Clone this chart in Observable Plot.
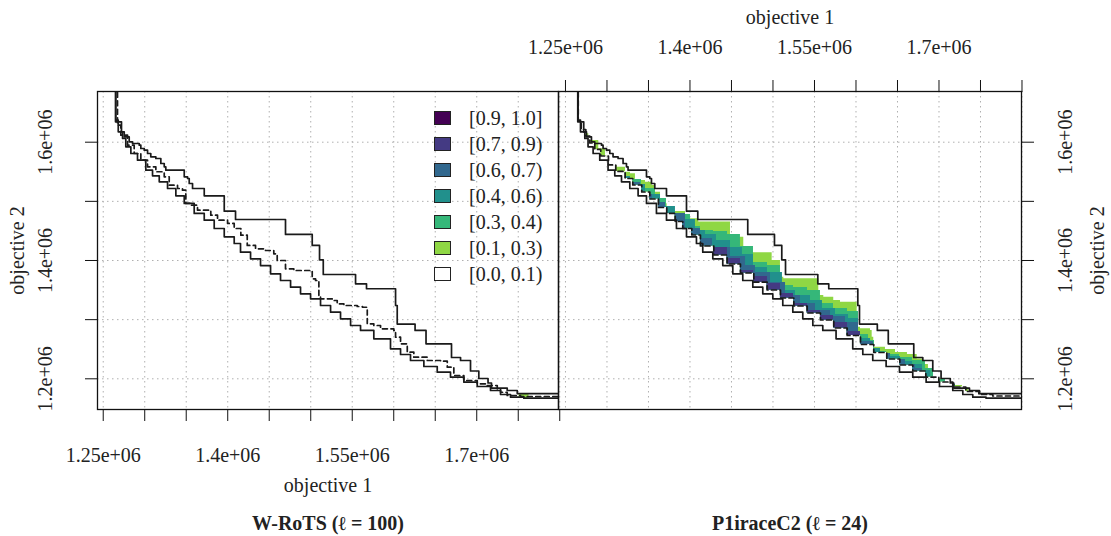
<!DOCTYPE html>
<html><head><meta charset="utf-8">
<script src="https://cdn.jsdelivr.net/npm/d3@7"></script>
<script src="https://cdn.jsdelivr.net/npm/@observablehq/plot@0.6"></script>
<style>
body{margin:0;background:#fff;}
#wrap{position:relative;width:1111px;height:536px;overflow:hidden;font-family:"Liberation Serif","DejaVu Serif",serif;color:#222;background:#fff;}
#wrap svg{position:absolute;top:0;overflow:visible;font-family:"Liberation Serif","DejaVu Serif",serif;}
.sw{position:absolute;width:15px;height:12px;border:1px solid #222;}
.lt{position:absolute;font-size:20px;line-height:20px;white-space:nowrap;}
</style></head><body><div id="wrap"></div>
<script>
// ---- data (objective 1, objective 2) ----
const worst = [[1264.8e3,1634.5e3],[1272.0e3,1617.6e3],[1275.3e3,1609.1e3],[1281.3e3,1600.7e3],[1285.3e3,1597.8e3],[1293.4e3,1594.9e3],[1295.3e3,1589.3e3],[1299.4e3,1586.5e3],[1303.4e3,1580.9e3],[1307.3e3,1575.3e3],[1313.4e3,1572.4e3],[1319.4e3,1564.0e3],[1323.5e3,1558.4e3],[1325.4e3,1552.7e3],[1347.6e3,1541.5e3],[1351.6e3,1538.6e3],[1353.6e3,1530.2e3],[1357.6e3,1521.7e3],[1371.7e3,1509.4e3],[1395.8e3,1483.3e3],[1409.4e3,1469.3e3],[1469.6e3,1444.0e3],[1501.8e3,1425.4e3],[1510.6e3,1401.2e3],[1515.1e3,1376.3e3],[1554.0e3,1360.6e3],[1567.2e3,1352.2e3],[1602.2e3,1323.9e3],[1604.2e3,1292.6e3],[1625.7e3,1281.7e3],[1638.9e3,1259.2e3],[1669.6e3,1236.0e3],[1680.5e3,1230.9e3],[1692.5e3,1213.2e3],[1702.5e3,1200.5e3],[1713.6e3,1192.9e3],[1717.8e3,1184.4e3],[1736.7e3,1180.2e3],[1748.8e3,1175.1e3]];
const best = [[1265.2e3,1637.2e3],[1268.1e3,1617.6e3],[1273.3e3,1606.3e3],[1277.2e3,1592.2e3],[1283.3e3,1580.9e3],[1291.3e3,1569.6e3],[1301.3e3,1552.7e3],[1309.4e3,1543.2e3],[1317.5e3,1533.0e3],[1327.5e3,1521.7e3],[1337.5e3,1509.4e3],[1347.6e3,1496.4e3],[1359.6e3,1479.5e3],[1371.7e3,1468.1e3],[1383.7e3,1454.1e3],[1395.8e3,1440.1e3],[1407.8e3,1428.7e3],[1415.4e3,1414.0e3],[1427.5e3,1402.9e3],[1439.5e3,1391.5e3],[1451.6e3,1377.5e3],[1463.6e3,1366.2e3],[1475.7e3,1354.9e3],[1487.7e3,1343.7e3],[1499.8e3,1335.2e3],[1511.8e3,1323.9e3],[1523.9e3,1312.6e3],[1535.9e3,1301.4e3],[1548.0e3,1290.1e3],[1560.0e3,1281.7e3],[1576.0e3,1267.6e3],[1596.1e3,1250.7e3],[1608.2e3,1241.1e3],[1620.2e3,1230.9e3],[1636.3e3,1220.8e3],[1652.4e3,1211.2e3],[1668.4e3,1202.7e3],[1684.5e3,1194.3e3],[1700.6e3,1187.0e3],[1716.6e3,1180.2e3],[1728.7e3,1173.5e3],[1740.7e3,1168.9e3],[1756.7e3,1167.2e3]];
const medianWRoTS = [[1267.2e3,1628.7e3],[1271.2e3,1611.8e3],[1279.3e3,1594.9e3],[1287.3e3,1580.9e3],[1295.3e3,1569.6e3],[1303.4e3,1558.4e3],[1313.4e3,1550.0e3],[1323.5e3,1541.5e3],[1329.5e3,1527.3e3],[1339.5e3,1521.7e3],[1345.5e3,1518.8e3],[1349.5e3,1496.4e3],[1355.5e3,1493.5e3],[1363.6e3,1485.0e3],[1379.6e3,1476.6e3],[1387.7e3,1468.1e3],[1399.8e3,1462.6e3],[1407.8e3,1454.1e3],[1415.8e3,1442.8e3],[1423.5e3,1425.4e3],[1433.5e3,1419.8e3],[1445.5e3,1416.9e3],[1455.5e3,1411.3e3],[1459.6e3,1400.0e3],[1469.6e3,1386.0e3],[1479.6e3,1383.1e3],[1501.8e3,1369.1e3],[1505.8e3,1366.2e3],[1509.8e3,1340.8e3],[1511.8e3,1335.2e3],[1525.9e3,1332.4e3],[1531.9e3,1326.8e3],[1539.9e3,1323.9e3],[1556.0e3,1322.2e3],[1562.4e3,1321.0e3],[1568.1e3,1293.0e3],[1576.0e3,1290.1e3],[1584.1e3,1284.5e3],[1600.1e3,1281.7e3],[1602.2e3,1270.3e3],[1608.2e3,1259.2e3],[1616.3e3,1245.0e3],[1624.2e3,1236.5e3],[1640.4e3,1230.9e3],[1656.4e3,1229.8e3],[1664.5e3,1219.6e3],[1672.4e3,1205.6e3],[1684.5e3,1197.1e3],[1700.6e3,1191.5e3],[1712.6e3,1188.7e3],[1724.7e3,1183.1e3],[1728.7e3,1177.3e3],[1736.7e3,1171.8e3],[1752.8e3,1170.1e3]];
const medianP1 = [[1265.4e3,1635.8e3],[1269.0e3,1621.5e3],[1274.5e3,1610.5e3],[1279.3e3,1598.6e3],[1285.3e3,1587.7e3],[1292.5e3,1576.7e3],[1301.8e3,1561.5e3],[1310.6e3,1550.5e3],[1321.9e3,1538.6e3],[1331.1e3,1527.6e3],[1341.9e3,1515.8e3],[1351.6e3,1504.0e3],[1362.0e3,1489.6e3],[1372.0e3,1479.5e3],[1382.2e3,1465.9e3],[1391.3e3,1454.1e3],[1402.2e3,1443.1e3],[1412.6e3,1424.5e3],[1428.7e3,1409.3e3],[1444.8e3,1394.1e3],[1460.8e3,1378.9e3],[1476.9e3,1363.3e3],[1493.0e3,1350.1e3],[1509.0e3,1336.6e3],[1525.1e3,1323.1e3],[1541.2e3,1311.2e3],[1557.2e3,1299.4e3],[1573.2e3,1285.9e3],[1589.4e3,1273.2e3],[1605.4e3,1258.0e3],[1621.4e3,1244.5e3],[1637.1e3,1233.5e3],[1652.8e3,1223.3e3],[1668.4e3,1213.2e3],[1684.1e3,1203.0e3],[1699.8e3,1194.6e3],[1716.6e3,1186.1e3],[1732.3e3,1178.5e3],[1748.0e3,1173.5e3],[1764.8e3,1170.9e3]];
// outer boundaries of the difference regions (right panel); last point = where the region ends
const level01 = [[1272.0e3,1614.2e3],[1278.1e3,1602.9e3],[1290.1e3,1588.8e3],[1298.2e3,1577.5e3],[1300.2e3,1560.6e3],[1312.3e3,1557.7e3],[1322.3e3,1549.3e3],[1328.3e3,1546.6e3],[1334.3e3,1535.2e3],[1346.4e3,1532.4e3],[1354.5e3,1526.8e3],[1358.4e3,1515.5e3],[1364.5e3,1501.4e3],[1370.5e3,1495.9e3],[1372.5e3,1482.8e3],[1394.6e3,1470.5e3],[1410.6e3,1465.1e3],[1448.8e3,1439.4e3],[1464.8e3,1422.5e3],[1468.9e3,1413.0e3],[1499.0e3,1400.0e3],[1509.0e3,1371.8e3],[1513.0e3,1369.1e3],[1555.2e3,1340.8e3],[1561.2e3,1338.0e3],[1573.2e3,1332.4e3],[1581.3e3,1329.5e3],[1601.4e3,1287.2e3],[1605.4e3,1284.5e3],[1617.5e3,1281.7e3],[1619.5e3,1270.3e3],[1621.4e3,1253.4e3],[1635.5e3,1249.5e3],[1647.6e3,1244.5e3],[1662.0e3,1241.1e3],[1673.7e3,1233.5e3],[1680.1e3,1224.2e3],[1687.3e3,1216.6e3],[1691.0e3,1200.0e3],[1704.2e3,1194.3e3],[1715.1e3,1188.7e3],[1728.3e3,1184.4e3],[1735.9e3,1177.3e3],[1745.0e3,1177.3e3]];
const level03 = [[1306.6e3,1548.8e3],[1322.3e3,1536.9e3],[1341.6e3,1521.7e3],[1358.4e3,1504.8e3],[1371.7e3,1477.8e3],[1400.6e3,1457.5e3],[1412.6e3,1450.7e3],[1428.3e3,1449.0e3],[1445.2e3,1444.0e3],[1460.8e3,1423.7e3],[1476.5e3,1396.6e3],[1493.4e3,1391.5e3],[1509.0e3,1357.7e3],[1524.7e3,1354.4e3],[1541.6e3,1349.3e3],[1557.2e3,1327.3e3],[1572.9e3,1318.8e3],[1589.8e3,1313.8e3],[1603.0e3,1274.9e3],[1615.1e3,1264.7e3],[1622.3e3,1246.2e3],[1636.7e3,1241.1e3],[1652.4e3,1236.0e3],[1668.1e3,1230.9e3],[1683.7e3,1217.4e3],[1693.4e3,1198.8e3],[1707.8e3,1190.4e3],[1719.9e3,1185.3e3],[1728.3e3,1185.3e3]];
const level04 = [[1313.9e3,1542.0e3],[1328.3e3,1528.5e3],[1346.4e3,1511.6e3],[1364.5e3,1491.3e3],[1382.5e3,1469.3e3],[1406.6e3,1450.7e3],[1418.7e3,1444.0e3],[1431.9e3,1433.8e3],[1448.8e3,1422.0e3],[1463.2e3,1410.1e3],[1476.5e3,1388.2e3],[1493.4e3,1379.7e3],[1511.4e3,1349.3e3],[1527.1e3,1340.8e3],[1545.2e3,1332.4e3],[1559.6e3,1318.8e3],[1575.3e3,1308.7e3],[1591.0e3,1301.9e3],[1603.0e3,1268.1e3],[1617.5e3,1251.2e3],[1629.5e3,1237.7e3],[1653.6e3,1229.2e3],[1668.1e3,1224.2e3],[1680.1e3,1214.0e3],[1690.0e3,1214.0e3]];
const level06 = [[1322.3e3,1531.9e3],[1340.4e3,1511.6e3],[1354.8e3,1498.1e3],[1370.5e3,1479.5e3],[1394.6e3,1454.1e3],[1412.6e3,1437.2e3],[1427.1e3,1422.0e3],[1448.8e3,1406.8e3],[1466.9e3,1391.5e3],[1478.9e3,1379.7e3],[1497.0e3,1362.8e3],[1515.1e3,1340.8e3],[1533.1e3,1327.3e3],[1551.2e3,1315.5e3],[1569.3e3,1305.3e3],[1587.3e3,1295.2e3],[1603.0e3,1263.1e3],[1621.1e3,1242.8e3],[1641.6e3,1232.6e3],[1659.6e3,1224.2e3],[1671.7e3,1217.4e3],[1680.0e3,1217.4e3]];
const level07 = [[1428.3e3,1422.0e3],[1445.2e3,1403.4e3],[1460.8e3,1383.1e3],[1476.5e3,1372.9e3],[1493.4e3,1361.1e3],[1509.0e3,1344.2e3],[1524.7e3,1327.3e3],[1541.6e3,1315.5e3],[1557.2e3,1307.0e3],[1572.9e3,1295.2e3],[1589.8e3,1280.0e3],[1605.4e3,1280.0e3]];
const leftLevel01 = [[1751.0e3,1173.5e3],[1763.0e3,1173.5e3]];
const legendLabels = ["[0.9, 1.0]","[0.7, 0.9)","[0.6, 0.7)","[0.4, 0.6)","[0.3, 0.4)","[0.1, 0.3)","[0.0, 0.1)"];
const legendColors = ["#440154","#443A83","#31688E","#21908C","#35B779","#8FD744","#FFFFFF"];
const xTicks = [1.25e6,1.3e6,1.35e6,1.4e6,1.45e6,1.5e6,1.55e6,1.6e6,1.65e6,1.7e6,1.75e6,1.8e6];
const xLabels = [1.25e6,1.4e6,1.55e6,1.7e6];
const yTicks = [1.2e6,1.3e6,1.4e6,1.5e6,1.6e6];
const yLabels = [1.2e6,1.4e6,1.6e6];
const titles = ["W-RoTS (\u2113 = 100)", "P1iraceC2 (\u2113 = 24)"];

// ---- helpers ----
const fmt = v => (Math.round(v/1e4)/100) + "e+06";
const FONT = "'Liberation Serif', 'DejaVu Serif', serif";
function stepLine(pts){ return [[pts[0][0], 1.9e6], ...pts, [1.9e6, pts[pts.length-1][1]]]; }
function stepVal(pts, x){ let y = Infinity; for (const p of pts){ if (p[0] <= x) y = p[1]; else break; } return y; }
function band(upper, lower){
  const x0 = upper[0][0], x1 = upper[upper.length-1][0];
  const xs = Array.from(new Set([...upper.map(d=>d[0]), ...lower.map(d=>d[0]).filter(x=>x>x0&&x<x1)])).sort((a,b)=>a-b);
  return xs.map(x => { const lo = stepVal(lower,x); const up = stepVal(upper,x); return {x, lo, hi: Math.max(lo, up)}; });
}
const lineOpts = {x: d=>d[0], y: d=>d[1], curve: "step-after", stroke: "#1a1a1a", strokeWidth: 1.7, clip: true};
const gridStyle = {stroke: "#b0b0b0", strokeOpacity: 1, strokeWidth: 1, strokeDasharray: "1.5,3.5"};
const textStyle = {fontSize: 20, fill: "#222", textAnchor: "middle", lineAnchor: "middle", fontFamily: FONT};
const yDomain = [1148.1e3, 1685.7e3];
const areaOpts = c => ({x: "x", y1: "lo", y2: "hi", curve: "step-after", fill: c, clip: true});

const left = Plot.plot({
  width: 559, height: 536, marginLeft: 97, marginRight: 1, marginTop: 91, marginBottom: 127,
  style: {fontFamily: FONT, fontSize: "20px", background: "transparent", overflow: "visible"},
  x: {domain: [1243.1e3, 1798.5e3]}, y: {domain: yDomain},
  marks: [
    Plot.gridX(xTicks, gridStyle),
    Plot.gridY(yTicks, gridStyle),
    Plot.areaY(band(leftLevel01, best), areaOpts("#8FD744")),
    Plot.line(stepLine(worst), lineOpts),
    Plot.line(stepLine(best), lineOpts),
    Plot.line(stepLine(medianWRoTS), {...lineOpts, strokeDasharray: "5,3.5"}),
    Plot.frame({stroke: "#111", strokeWidth: 1.3}),
    Plot.axisX(xTicks, {anchor: "bottom", tickSize: 12, tickFormat: () => "", label: null, stroke: "#111"}),
    Plot.axisY(yTicks, {anchor: "left", tickSize: 12, tickFormat: () => "", label: null, stroke: "#111"}),
    Plot.text(xLabels, {x: d=>d, text: fmt, frameAnchor: "bottom", dy: 46, ...textStyle}),
    Plot.text(yLabels, {y: d=>d, text: fmt, frameAnchor: "left", dx: -52, rotate: -90, ...textStyle}),
    Plot.text(["objective 1"], {text: d=>d, frameAnchor: "bottom", dy: 76, ...textStyle}),
    Plot.text(["objective 2"], {text: d=>d, frameAnchor: "left", dx: -80, rotate: -90, ...textStyle}),
    Plot.text([titles[0]], {text: d=>d, frameAnchor: "bottom", dy: 114, fontWeight: "bold", ...textStyle})
  ]
});

const bands = [[level01,"#8FD744"],[level03,"#35B779"],[level04,"#21908C"],[level06,"#31688E"],[level07,"#443A83"]];
const right = Plot.plot({
  width: 553, height: 536, marginLeft: 0, marginRight: 90, marginTop: 91, marginBottom: 127,
  style: {fontFamily: FONT, fontSize: "20px", background: "transparent", overflow: "visible"},
  x: {domain: [1241.6e3, 1799.4e3]}, y: {domain: yDomain},
  marks: [
    Plot.gridX(xTicks, gridStyle),
    Plot.gridY(yTicks, gridStyle),
    ...bands.map(([lev, c]) => Plot.areaY(band(lev, medianP1), areaOpts(c))),
    Plot.line(stepLine(worst), lineOpts),
    Plot.line(stepLine(best), lineOpts),
    Plot.line(stepLine(medianP1), {...lineOpts, strokeDasharray: "5,3.5"}),
    Plot.frame({stroke: "#111", strokeWidth: 1.3}),
    Plot.axisX(xTicks, {anchor: "top", tickSize: 12, tickFormat: () => "", label: null, stroke: "#111"}),
    Plot.axisY(yTicks, {anchor: "right", tickSize: 12, tickFormat: () => "", label: null, stroke: "#111"}),
    Plot.text(xLabels, {x: d=>d, text: fmt, frameAnchor: "top", dy: -44, ...textStyle}),
    Plot.text(yLabels, {y: d=>d, text: fmt, frameAnchor: "right", dx: 44, rotate: -90, ...textStyle}),
    Plot.text(["objective 1"], {text: d=>d, frameAnchor: "top", dy: -74, ...textStyle}),
    Plot.text(["objective 2"], {text: d=>d, frameAnchor: "right", dx: 76, rotate: -90, ...textStyle}),
    Plot.text([titles[1]], {text: d=>d, frameAnchor: "bottom", dy: 114, fontWeight: "bold", ...textStyle})
  ]
});

const wrap = document.getElementById("wrap");
left.style.left = "0px";
right.style.left = "558px";
wrap.appendChild(left);
wrap.appendChild(right);
// legend (left panel, top right)
const legendY = [118.3,144.3,170,196,221.7,248.3,274.3];
legendLabels.forEach((lab, i) => {
  const s = document.createElement("div"); s.className = "sw";
  s.style.left = "434px"; s.style.top = (legendY[i] - 7) + "px"; s.style.background = legendColors[i];
  wrap.appendChild(s);
  const t = document.createElement("div"); t.className = "lt"; t.textContent = lab;
  t.style.left = "469px"; t.style.top = (legendY[i] - 10) + "px";
  wrap.appendChild(t);
});
</script>
</body></html>
